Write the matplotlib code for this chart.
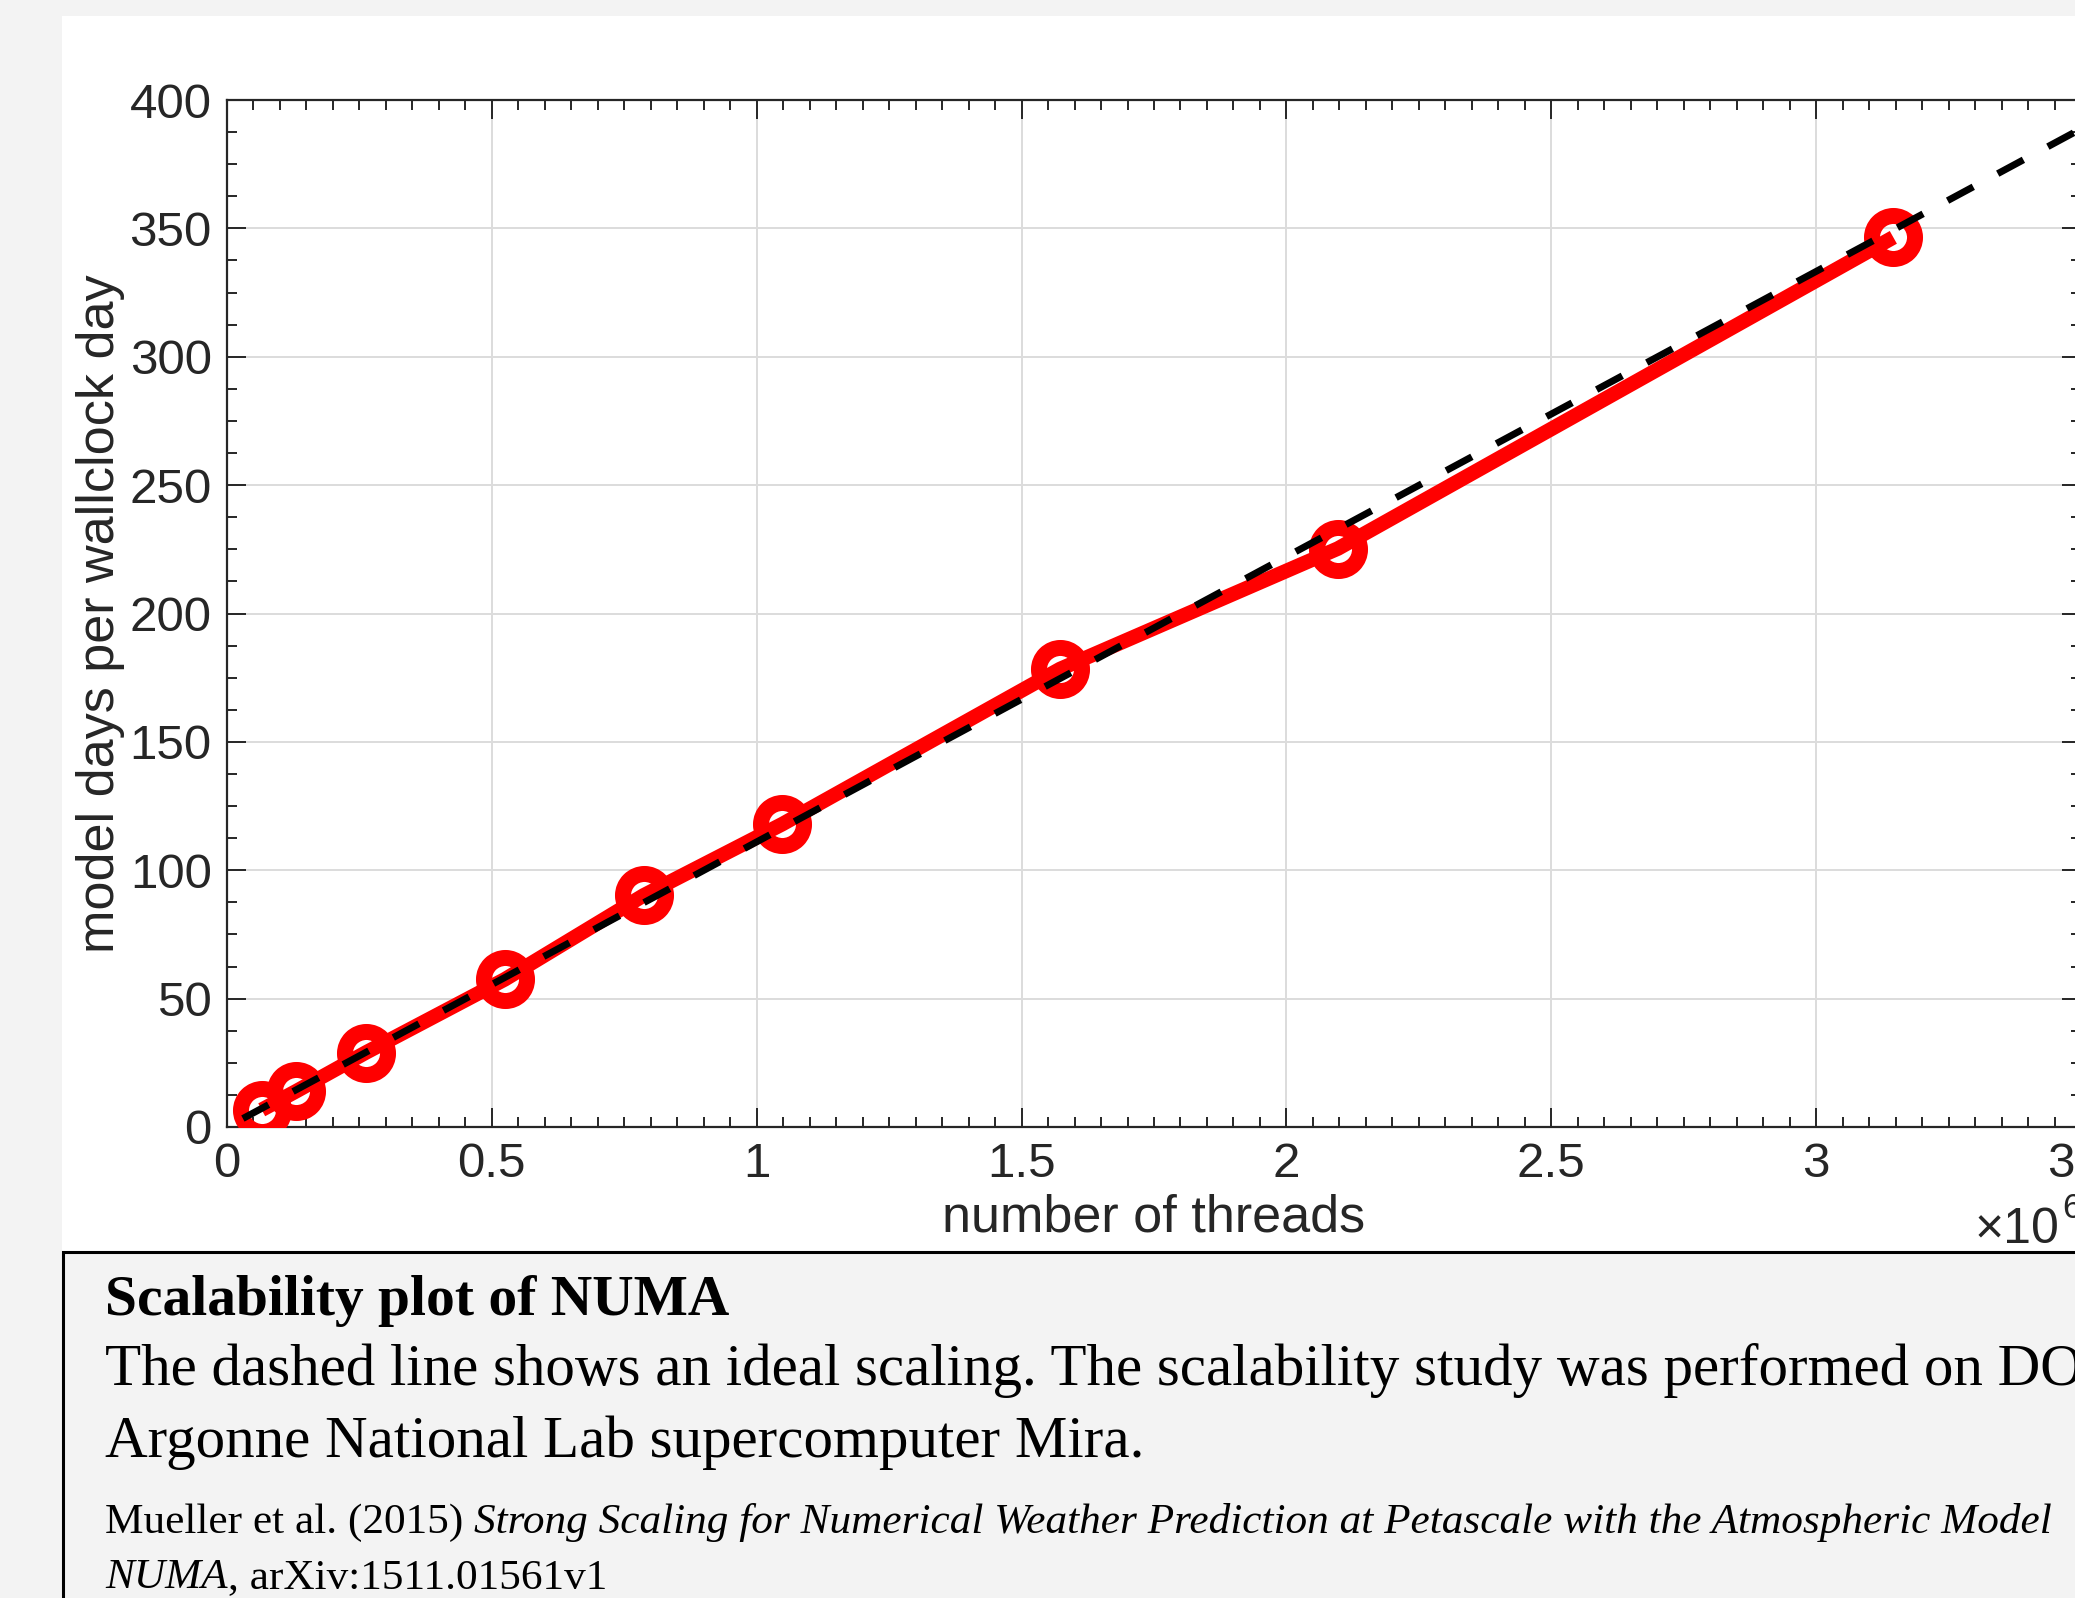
import matplotlib
matplotlib.use("Agg")
from matplotlib import pyplot as plt
from matplotlib.patches import Rectangle
from matplotlib.ticker import MultipleLocator, FuncFormatter

# threads used in the strong scaling runs and the measured throughput
threads = [65536, 131072, 262144, 524288, 786432, 1048576, 1572864, 2097152, 3145728]
days_per_day = [6.7, 14.0, 29.0, 57.5, 90.2, 118.0, 178.4, 225.3, 346.5]

# ideal scaling line (dashed)
ideal_threads = [30000, 3700000]
ideal_days = [3.3, 411.0]

x_ticks = [0, 0.5e6, 1e6, 1.5e6, 2e6, 2.5e6, 3e6, 3.5e6]
y_ticks = [0, 50, 100, 150, 200, 250, 300, 350, 400]

title = "Scalability plot of NUMA"
body1 = "The dashed line shows an ideal scaling. The scalability study was performed on DOE"
body2 = "Argonne National Lab supercomputer Mira."
cite_a = "Mueller et al. (2015) "
cite_b = "Strong Scaling for Numerical Weather Prediction at Petascale with the Atmospheric Model"
cite_c = "NUMA"
cite_d = ", arXiv:1511.01561v1"

W, H = 2075, 1598
bg = "#f3f3f3"
ink = "#262626"
plt.rcParams['font.family'] = ['Liberation Sans', 'DejaVu Sans']
plt.rcParams['lines.scale_dashes'] = False

fig = plt.figure(figsize=(W / 100, H / 100), dpi=100, facecolor=bg)

# white panel behind the plot and the caption box below it
fig.patches.append(Rectangle((62 / W, 1 - 1252 / H), 1.0, (1252 - 16) / H,
                             transform=fig.transFigure, facecolor="white", edgecolor="none", zorder=-2))
fig.patches.append(Rectangle((63 / W, -0.05), 1.0, 0.05 + (1598 - 1252) / H,
                             transform=fig.transFigure, facecolor=bg, edgecolor="black", lw=2.2, zorder=-1))

ax = fig.add_axes([227 / W, 1 - 1127 / H, (2081 - 227) / W, (1127 - 100) / H])
ax.set_facecolor("none")

ax.plot(threads, days_per_day, color="red", lw=10.5, marker="o", ms=31, mew=11.5,
        mfc="none", mec="red", zorder=3, solid_capstyle="butt")
ax.plot(ideal_threads, ideal_days, color="black", lw=5, dashes=(21, 20), zorder=4,
        dash_capstyle="butt")

ax.set_xlim(0, 3.5e6)
ax.set_ylim(0, 400)
ax.set_xticks(x_ticks)
ax.set_yticks(y_ticks)
ax.xaxis.set_minor_locator(MultipleLocator(0.05e6))
ax.yaxis.set_minor_locator(MultipleLocator(12.5))
ax.xaxis.set_major_formatter(FuncFormatter(lambda v, p: "%g" % (v / 1e6)))

ax.grid(True, which="major", color="#dcdcdc", lw=1.4, zorder=0)
ax.set_axisbelow(True)
for s in ax.spines.values():
    s.set_color(ink)
    s.set_linewidth(1.6)
ax.tick_params(which="both", direction="in", top=True, right=True, color=ink, width=1.4)
ax.tick_params(which="major", length=14, labelsize=35.5, labelcolor=ink)
ax.tick_params(which="minor", length=7.2)
ax.tick_params(axis="x", which="major", pad=11)
ax.tick_params(axis="y", which="major", pad=11)

ax.text(-0.068, 0.5, "model days per wallclock day", transform=ax.transAxes, rotation=90,
        ha="center", va="center", fontsize=37.5, color=ink)
ax.text(0.5, -0.1013, "number of threads", transform=ax.transAxes,
        ha="center", va="baseline", fontsize=37.5, color=ink)
r = fig.canvas.get_renderer()
t = ax.text(0.9428, -0.113, "×10", transform=ax.transAxes, ha="left", va="baseline",
            fontsize=36, color=ink, clip_on=False)
e = t.get_window_extent(r)
fig.text(e.x1 / W + 0.001, 1 - 1218 / H, "6", ha="left", va="baseline", fontsize=25, color=ink)

# caption
serif = ['Liberation Serif', 'DejaVu Serif']
x0 = 105 / W
fig.text(x0, 1 - 1315 / H, title, family=serif, fontsize=41.4, weight="bold", va="baseline")
fig.text(x0, 1 - 1385 / H, body1, family=serif, fontsize=42.5, va="baseline")
fig.text(x0, 1 - 1457 / H, body2, family=serif, fontsize=42.5, va="baseline")

t = fig.text(x0, 1 - 1533 / H, cite_a, family=serif, fontsize=31.15, va="baseline")
e = t.get_window_extent(r)
fig.text(e.x1 / W, 1 - 1533 / H, cite_b, family=serif, fontsize=31.15, style="italic", va="baseline")
t = fig.text(x0, 1 - 1588 / H, cite_c, family=serif, fontsize=31.15, style="italic", va="baseline")
e = t.get_window_extent(r)
fig.text(e.x1 / W, 1 - 1588 / H, cite_d, family=serif, fontsize=31.15, va="baseline")

fig.savefig("out.png", dpi=100, facecolor=bg)
